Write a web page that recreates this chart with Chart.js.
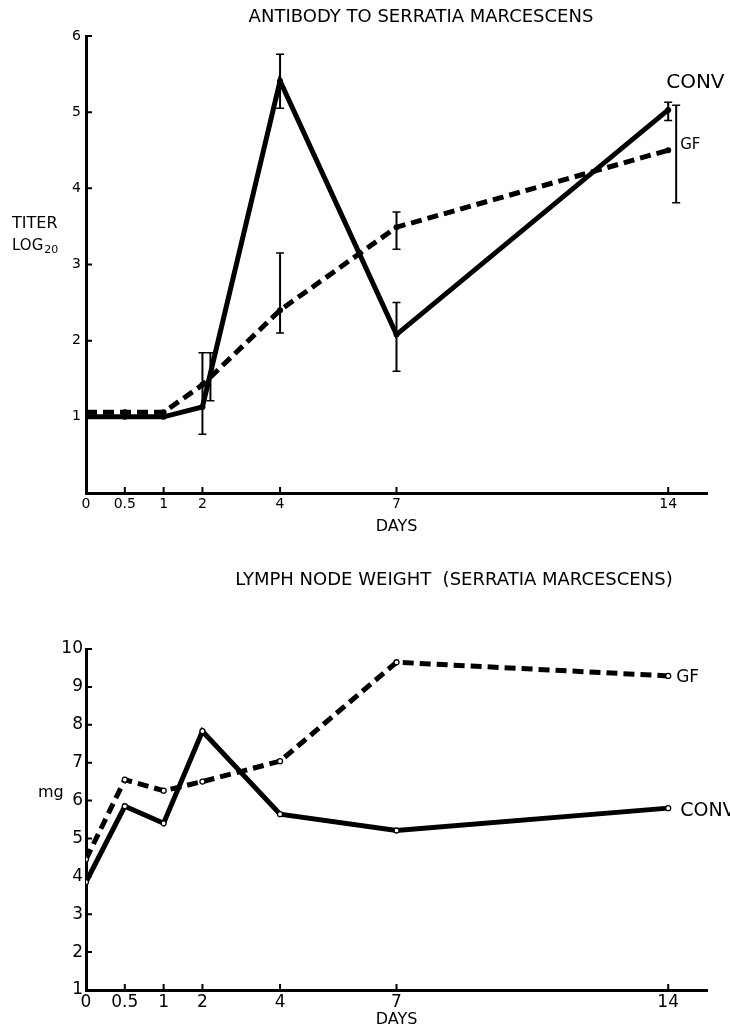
<!DOCTYPE html>
<html>
<head>
<meta charset="utf-8">
<script src="https://cdn.jsdelivr.net/npm/chart.js@4/dist/chart.umd.min.js"></script>
<style>
  body { margin: 0; background: #fff; }
  .panel { position: absolute; left: 0; }
</style>
</head>
<body>
<div class="panel" style="top:0"><canvas id="titerChart" width="730" height="545"></canvas></div>
<div class="panel" style="top:545px"><canvas id="weightChart" width="730" height="489"></canvas></div>
<script>
// sampling days and x tick labels
const days = [0, 0.5, 1, 2, 4, 7, 14];
const tickDays = [0, 0.5, 1, 2, 4, 7, 14];
const tickLabels = ["0", "0.5", "1", "2", "4", "7", "14"];

// antibody titer (log20)
const titerConv = [1.0, 1.0, 1.0, 1.13, 5.41, 2.08, 5.03];
const titerGf = [1.06, 1.06, 1.06, 1.42, 2.4, 3.49, 4.5];
const titerConvLow = [null, null, null, 0.77, 5.05, 1.6, 4.89];
const titerConvHigh = [null, null, null, 1.84, 5.76, 2.5, 5.13];
const titerGfLow = [null, null, null, 1.21, 2.1, 3.2, 3.81];
const titerGfHigh = [null, null, null, 1.84, 3.15, 3.69, 5.09];

// lymph node weight (mg)
const weightConv = [3.85, 5.85, 5.4, 7.83, 5.64, 5.21, 5.8];
const weightGf = [4.45, 6.55, 6.26, 6.5, 7.04, 9.65, 9.29];

const FONT = "'DejaVu Sans', sans-serif";

// the day axis is stretched for the first day: half a day takes one step, later one day per step
function dayToUnit(d) {
  return d <= 1 ? d * 2 : d + 1;
}

function points(values) {
  return days.map((d, i) => ({ x: dayToUnit(d), y: values[i] }));
}

// small inward tick marks on both axes
const axisTicks = {
  id: "axisTicks",
  afterDraw(chart) {
    const { ctx, chartArea: a, scales: { x, y } } = chart;
    ctx.save();
    ctx.strokeStyle = "#000";
    ctx.lineWidth = 2;
    ctx.beginPath();
    x.ticks.forEach(t => {
      const px = x.getPixelForValue(t.value);
      if (px - a.left < 2) return;
      ctx.moveTo(px, a.bottom);
      ctx.lineTo(px, a.bottom - 6);
    });
    y.ticks.forEach(t => {
      const py = y.getPixelForValue(t.value);
      if (a.bottom - py < 2) return;
      ctx.moveTo(a.left, py);
      ctx.lineTo(a.left + 6, py);
    });
    ctx.stroke();
    ctx.restore();
  }
};

// vertical error bars, shifted sideways when they would sit on another bar
const errorBars = {
  id: "errorBars",
  afterDatasetsDraw(chart, args, opts) {
    const sets = opts.sets || [];
    if (!sets.length) return;
    const { ctx, scales: { x, y } } = chart;
    ctx.save();
    ctx.strokeStyle = "#000";
    sets.forEach((set, s) => {
      set.low.forEach((lo, i) => {
        const hi = set.high[i];
        if (lo == null || hi == null) return;
        let shift = 0;
        for (let k = 0; k < s; k++) {
          const l2 = sets[k].low[i], h2 = sets[k].high[i];
          if (l2 != null && lo <= h2 && hi >= l2) shift += opts.gap;
        }
        const px = x.getPixelForValue(dayToUnit(days[i])) + shift;
        const y1 = y.getPixelForValue(lo), y2 = y.getPixelForValue(hi);
        ctx.lineWidth = 2;
        ctx.beginPath();
        ctx.moveTo(px, y1);
        ctx.lineTo(px, y2);
        ctx.stroke();
        ctx.lineWidth = 1.5;
        ctx.beginPath();
        ctx.moveTo(px - opts.cap, y1);
        ctx.lineTo(px + opts.cap, y1);
        ctx.moveTo(px - opts.cap, y2);
        ctx.lineTo(px + opts.cap, y2);
        ctx.stroke();
      });
    });
    ctx.restore();
  }
};

// free text: titles, axis captions, series names next to the last point
const notes = {
  id: "notes",
  afterDraw(chart, args, opts) {
    const ctx = chart.ctx;
    ctx.save();
    ctx.fillStyle = "#000";
    ctx.textBaseline = "middle";
    (opts.items || []).forEach(n => {
      ctx.font = n.size + "px " + FONT;
      ctx.textAlign = n.align || "left";
      ctx.fillText(n.text, n.x, n.y);
      if (n.sub) {
        const w = ctx.measureText(n.text).width;
        ctx.font = Math.round(n.size * 0.75) + "px " + FONT;
        ctx.fillText(n.sub, n.x + w + 1, n.y + n.size * 0.3);
      }
    });
    (opts.series || []).forEach(n => {
      const meta = chart.getDatasetMeta(n.dataset);
      const last = meta.data[meta.data.length - 1];
      ctx.font = n.size + "px " + FONT;
      ctx.textAlign = "left";
      ctx.fillText(n.text, last.x + n.dx, last.y + n.dy);
    });
    ctx.restore();
  }
};

function xScale(height, labelSize, labelPad, titleSize, titlePad) {
  return {
    type: "linear",
    min: 0,
    max: dayToUnit(15),
    afterBuildTicks: s => { s.ticks = tickDays.map(d => ({ value: dayToUnit(d) })); },
    afterFit: s => { s.height = height; },
    grid: { display: false, drawTicks: false },
    border: { display: true, width: 3, color: "#000" },
    ticks: {
      autoSkip: false, maxRotation: 0, padding: labelPad, color: "#000",
      font: { family: FONT, size: labelSize },
      callback: (v, i) => tickLabels[i]
    },
    title: {
      display: true, text: "DAYS", color: "#000",
      font: { family: FONT, size: titleSize },
      padding: { top: 0, bottom: titlePad }
    }
  };
}

function yScale(min, max, labelSize, labelPad, hideMin) {
  return {
    min: min,
    max: max,
    afterFit: s => { s.width = 86; },
    grid: { display: false, drawTicks: false },
    border: { display: true, width: 3, color: "#000" },
    ticks: {
      stepSize: 1, padding: labelPad, color: "#000",
      font: { family: FONT, size: labelSize },
      callback: v => (hideMin && v === min ? "" : String(v))
    }
  };
}

const solid = { borderColor: "#000", borderWidth: 5, tension: 0, fill: false, borderJoinStyle: "miter" };
const dashed = Object.assign({}, solid, { borderDash: [11, 6] });

new Chart(document.getElementById("titerChart"), {
  type: "line",
  data: {
    datasets: [
      Object.assign({ label: "CONV", data: points(titerConv), pointRadius: 3, pointBackgroundColor: "#000", pointBorderWidth: 0 }, solid),
      Object.assign({ label: "GF", data: points(titerGf), pointRadius: 3, pointBackgroundColor: "#000", pointBorderWidth: 0 }, dashed)
    ]
  },
  options: {
    responsive: false,
    animation: false,
    events: [],
    layout: { padding: { top: 36, right: 23, left: 0, bottom: 0 } },
    plugins: {
      legend: { display: false },
      tooltip: { enabled: false },
      errorBars: {
        gap: 8, cap: 4,
        sets: [
          { low: titerConvLow, high: titerConvHigh },
          { low: titerGfLow, high: titerGfHigh }
        ]
      },
      notes: {
        items: [
          { text: "ANTIBODY TO SERRATIA MARCESCENS", x: 421, y: 17, size: 18, align: "center" },
          { text: "TITER", x: 12, y: 224, size: 16 },
          { text: "LOG", x: 12, y: 246, size: 15, sub: "20" }
        ],
        series: [
          { dataset: 0, text: "CONV", dx: -2, dy: -27, size: 20 },
          { dataset: 1, text: "GF", dx: 12, dy: -5, size: 15 }
        ]
      }
    },
    scales: {
      x: xScale(52, 14, 3, 16, 9),
      y: yScale(0, 6, 14, 5, true)
    }
  },
  plugins: [axisTicks, errorBars, notes]
});

new Chart(document.getElementById("weightChart"), {
  type: "line",
  data: {
    datasets: [
      Object.assign({ label: "CONV", data: points(weightConv), pointRadius: 2.5, pointBackgroundColor: "#fff", pointBorderColor: "#000", pointBorderWidth: 1.3 }, solid),
      Object.assign({ label: "GF", data: points(weightGf), pointRadius: 2.5, pointBackgroundColor: "#fff", pointBorderColor: "#000", pointBorderWidth: 1.3 }, dashed)
    ]
  },
  options: {
    responsive: false,
    animation: false,
    events: [],
    layout: { padding: { top: 104, right: 23, left: 0, bottom: 0 } },
    plugins: {
      legend: { display: false },
      tooltip: { enabled: false },
      notes: {
        items: [
          { text: "LYMPH NODE WEIGHT  (SERRATIA MARCESCENS)", x: 454, y: 35, size: 18, align: "center" },
          { text: "mg", x: 38, y: 248, size: 16 }
        ],
        series: [
          { dataset: 1, text: "GF", dx: 8, dy: 2, size: 17 },
          { dataset: 0, text: "CONV", dx: 12, dy: 3, size: 19 }
        ]
      }
    },
    scales: {
      x: xScale(44, 17, 2, 16, 5),
      y: yScale(1, 10, 17, 3, false)
    }
  },
  plugins: [axisTicks, errorBars, notes]
});
</script>
</body>
</html>
